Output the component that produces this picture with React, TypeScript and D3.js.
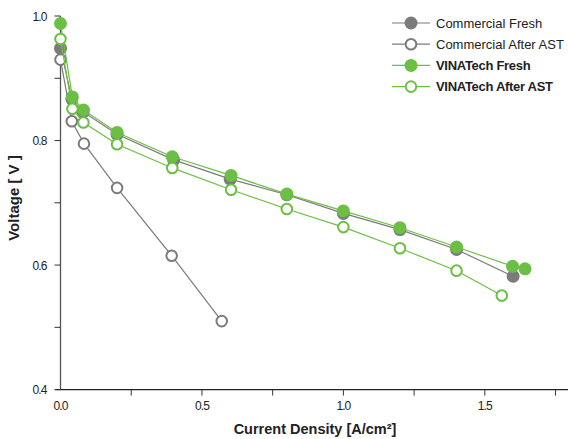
import * as d3 from 'd3';

import React, { useEffect, useRef } from 'react';

const commercialFreshX = [0.0, 0.04, 0.08, 0.2, 0.4, 0.6, 0.8, 1.0, 1.2, 1.4, 1.6];
const commercialFreshY = [0.948, 0.867, 0.846, 0.81, 0.769, 0.738, 0.713, 0.683, 0.657, 0.625, 0.582];

const commercialAstX = [0.0, 0.04, 0.083, 0.2, 0.393, 0.57];
const commercialAstY = [0.93, 0.831, 0.795, 0.724, 0.615, 0.51];

const vinaFreshX = [0.0, 0.042, 0.081, 0.2, 0.395, 0.603, 0.8, 1.0, 1.2, 1.4, 1.598, 1.642];
const vinaFreshY = [0.988, 0.87, 0.849, 0.813, 0.774, 0.744, 0.714, 0.687, 0.66, 0.629, 0.598, 0.594];

const vinaAstX = [0.0, 0.042, 0.081, 0.2, 0.395, 0.603, 0.8, 1.0, 1.2, 1.4, 1.56];
const vinaAstY = [0.963, 0.851, 0.829, 0.794, 0.756, 0.721, 0.69, 0.661, 0.627, 0.591, 0.551];

const xTicks = [0, 0.25, 0.5, 0.75, 1.0, 1.25, 1.5, 1.75];
const yTicks = [0.4, 0.5, 0.6, 0.7, 0.8, 0.9, 1.0];

const GRAY = '#7b7b7b';
const GREEN = '#6cbf45';

interface ISeries {
  name: string;
  xs: number[];
  ys: number[];
  color: string;
  filled: boolean;
  bold: boolean;
}

const series: ISeries[] = [
  { name: 'Commercial Fresh', xs: commercialFreshX, ys: commercialFreshY, color: GRAY, filled: true, bold: false },
  { name: 'Commercial After AST', xs: commercialAstX, ys: commercialAstY, color: GRAY, filled: false, bold: false },
  { name: 'VINATech Fresh', xs: vinaFreshX, ys: vinaFreshY, color: GREEN, filled: true, bold: true },
  { name: 'VINATech After AST', xs: vinaAstX, ys: vinaAstY, color: GREEN, filled: false, bold: true },
];

export default function App() {
  const ref = useRef(null);
  const width = 568;
  const height = 439;

  useEffect(() => {
    const svg = d3.select(ref.current);
    svg.selectAll('*').remove();

    const font = '"Liberation Sans", Arial, sans-serif';
    const textColor = '#222';

    const xScale = d3.scaleLinear().domain([0, 1.8]).range([60.5, 569.7]);
    const yScale = d3.scaleLinear().domain([0.4, 1.0]).range([389.6, 16]);

    // axes
    const xAxis = svg.append('g').attr('transform', `translate(0, ${yScale(0.4)})`);
    xAxis
      .append('line')
      .attr('x1', 55)
      .attr('x2', width)
      .attr('stroke', '#222')
      .attr('stroke-width', 1.3);
    xAxis
      .selectAll('line.tick')
      .data(xTicks.slice(1))
      .join('line')
      .attr('class', 'tick')
      .attr('x1', (d) => xScale(d))
      .attr('x2', (d) => xScale(d))
      .attr('y1', 0)
      .attr('y2', 6)
      .attr('stroke', '#333');
    xAxis
      .selectAll('text')
      .data(xTicks.filter((_, i) => i % 2 === 0))
      .join('text')
      .attr('x', (d) => xScale(d))
      .attr('y', 20.5)
      .attr('text-anchor', 'middle')
      .attr('font-family', font)
      .attr('font-size', 12)
      .attr('letter-spacing', -0.9)
      .attr('fill', textColor)
      .text((d) => d.toFixed(1));

    const yAxis = svg.append('g').attr('transform', `translate(${xScale(0)}, 0)`);
    yAxis
      .append('line')
      .attr('y1', yScale(1.0))
      .attr('y2', yScale(0.4))
      .attr('stroke', '#555')
      .attr('stroke-width', 1.3);
    yAxis
      .selectAll('line.tick')
      .data(yTicks)
      .join('line')
      .attr('class', 'tick')
      .attr('x1', -6)
      .attr('x2', 0)
      .attr('y1', (d) => yScale(d))
      .attr('y2', (d) => yScale(d))
      .attr('stroke', '#333');
    yAxis
      .selectAll('text')
      .data(yTicks.filter((_, i) => i % 2 === 0))
      .join('text')
      .attr('x', -14)
      .attr('y', (d) => yScale(d))
      .attr('dy', '0.38em')
      .attr('text-anchor', 'end')
      .attr('font-family', font)
      .attr('font-size', 12)
      .attr('letter-spacing', -0.9)
      .attr('fill', textColor)
      .text((d) => d.toFixed(1));

    // axis titles
    svg
      .append('text')
      .attr('x', 315)
      .attr('y', 434)
      .attr('text-anchor', 'middle')
      .attr('font-family', font)
      .attr('font-weight', 'bold')
      .attr('font-size', 14.5)
      .attr('fill', textColor)
      .text('Current Density [A/cm²]');
    svg
      .append('text')
      .attr('transform', 'translate(19, 198) rotate(-90)')
      .attr('text-anchor', 'middle')
      .attr('font-family', font)
      .attr('font-weight', 'bold')
      .attr('font-size', 15)
      .attr('fill', textColor)
      .text('Voltage [ V ]');

    // series
    const line = d3
      .line<[number, number]>()
      .x((d) => xScale(d[0]))
      .y((d) => yScale(d[1]));

    series.forEach((s) => {
      const pts = s.xs.map((x, i) => [x, s.ys[i]] as [number, number]);
      const g = svg.append('g');
      g.append('path')
        .attr('d', line(pts))
        .attr('fill', 'none')
        .attr('stroke', s.color)
        .attr('stroke-width', 1.2);
      g.selectAll('circle')
        .data(pts)
        .join('circle')
        .attr('cx', (d) => xScale(d[0]))
        .attr('cy', (d) => yScale(d[1]))
        .attr('r', s.filled ? 6.5 : 5.3)
        .attr('fill', s.filled ? s.color : '#fff')
        .attr('stroke', s.color)
        .attr('stroke-width', s.filled ? 0 : 2);
    });

    // legend
    const legend = svg
      .append('g')
      .selectAll('g')
      .data(series)
      .join('g')
      .attr('transform', (_, i) => `translate(392, ${23 + i * 21.2})`);
    legend
      .append('line')
      .attr('x1', 0)
      .attr('x2', 38)
      .attr('stroke', (d) => d.color)
      .attr('stroke-width', 1.2);
    legend
      .append('circle')
      .attr('cx', 19)
      .attr('r', (d) => (d.filled ? 6.5 : 5.3))
      .attr('fill', (d) => (d.filled ? d.color : '#fff'))
      .attr('stroke', (d) => d.color)
      .attr('stroke-width', (d) => (d.filled ? 0 : 2));
    legend
      .append('text')
      .attr('x', 44)
      .attr('dy', '0.36em')
      .attr('font-family', font)
      .attr('font-size', 13)
      .attr('font-weight', (d) => (d.bold ? 'bold' : 'normal'))
      .attr('letter-spacing', (d) => (d.bold ? -0.3 : 0))
      .attr('fill', textColor)
      .text((d) => d.name);
  }, []);

  return <svg ref={ref} width={width} height={height} style={{ position: 'absolute', left: 0, top: 0 }}></svg>;
}
